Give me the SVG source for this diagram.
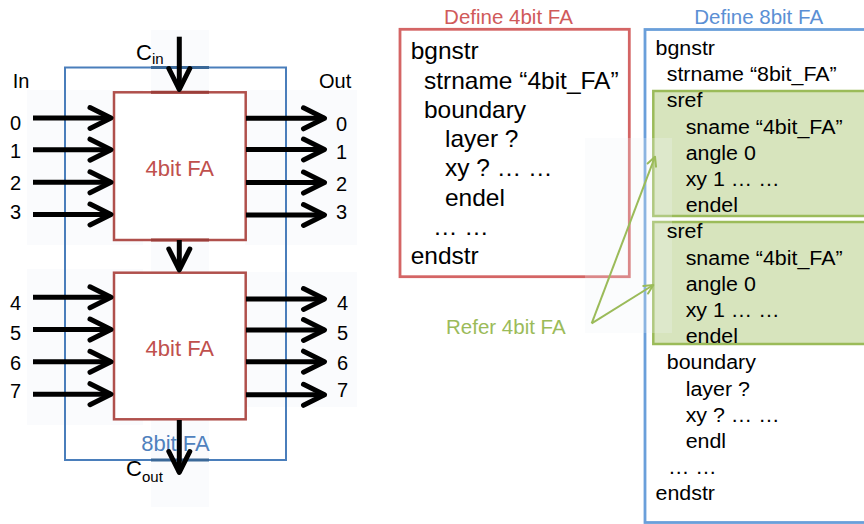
<svg xmlns="http://www.w3.org/2000/svg" width="864" height="524" viewBox="0 0 864 524">
  <defs>
    <style>
      text { font-family: "Liberation Sans", Arial, Helvetica, sans-serif; }
      .lbl { font-size: 20px; fill: #000; }
      .sub { font-size: 15px; fill: #000; }
      .fa4 { font-size: 22px; fill: #c0504d; }
      .fa8 { font-size: 22px; fill: #4f81bd; }
      .code4 { font-size: 23px; fill: #000; }
      .code8 { font-size: 20px; fill: #000; }
      .ttl4 { font-size: 20.5px; fill: #d05a5a; text-anchor: middle; }
      .ttl8 { font-size: 20.5px; fill: #5b8fd4; text-anchor: middle; }
      .refer { font-size: 20.5px; fill: #9bbb59; }
      .wire { stroke: #000; stroke-width: 5; fill: none; marker-end: url(#chev); }
      .patch { fill: #fafbfd; }
      .unit { fill: #fff; stroke: #b0504c; stroke-width: 2.5; }
      .glink { stroke: #9bbb59; stroke-width: 2; fill: none; marker-end: url(#gtip); }
      .sref { fill: #d7e4bd; stroke: #9bbb59; stroke-width: 2.5; }
    </style>
    <!-- thick open chevron for the signal arrows -->
    <marker id="chev" markerUnits="userSpaceOnUse" viewBox="-26 -14 30 28" refX="0" refY="0" markerWidth="30" markerHeight="28" orient="auto" overflow="visible">
      <path d="M-21,-10.5 L0,0 L-21,10.5" fill="none" stroke="#000" stroke-width="5" stroke-linecap="round" stroke-linejoin="round"/>
    </marker>
    <!-- thin open tip for the green reference links -->
    <marker id="gtip" markerUnits="userSpaceOnUse" viewBox="-12 -8 14 16" refX="0" refY="0" markerWidth="14" markerHeight="16" orient="auto" overflow="visible">
      <path d="M-9,-4.5 L0,0 L-9,4.5" fill="none" stroke="#9bbb59" stroke-width="2" stroke-linecap="round" stroke-linejoin="round"/>
    </marker>
  </defs>

  <rect x="0" y="0" width="864" height="524" fill="#fff"/>

  <!-- faint backdrops behind the arrow groups -->
  <g id="backdrops">
    <rect class="patch" x="27" y="90" width="116" height="155"/>
    <rect class="patch" x="27" y="269" width="116" height="156"/>
    <rect class="patch" x="245" y="90" width="112" height="155"/>
    <rect class="patch" x="245" y="272" width="112" height="135"/>
    <rect class="patch" x="151" y="30" width="58" height="92"/>
    <rect class="patch" x="151" y="236" width="58" height="40"/>
    <rect class="patch" x="151" y="416" width="58" height="91"/>
  </g>

  <!-- 8bit FA enclosure -->
  <g id="fa8-outline">
    <rect x="65" y="67.5" width="221" height="392.5" fill="none" stroke="#4a7ebb" stroke-width="2"/>
    <line x1="151" y1="67.5" x2="209" y2="67.5" stroke="#3a6898" stroke-width="3"/>
    <line x1="151" y1="460" x2="209" y2="460" stroke="#3a6898" stroke-width="3"/>
    <text class="fa8" x="175.5" y="450.7" text-anchor="middle">8bit FA</text>
  </g>

  <!-- upper 4bit FA -->
  <g id="fa4-upper">
    <rect class="unit" x="114" y="92.3" width="131.7" height="147.7"/>
    <line x1="151" y1="92.3" x2="209" y2="92.3" stroke="#9c3e3a" stroke-width="3"/>
    <line x1="151" y1="240" x2="209" y2="240" stroke="#9c3e3a" stroke-width="3"/>
    <text class="fa4" x="179.8" y="175.7" text-anchor="middle">4bit FA</text>
  </g>

  <!-- lower 4bit FA -->
  <g id="fa4-lower">
    <rect class="unit" x="114" y="272.7" width="131.7" height="146.6"/>
    <text class="fa4" x="179.8" y="356" text-anchor="middle">4bit FA</text>
  </g>

  <!-- port labels -->
  <g id="ports">
    <text class="lbl" x="12.7" y="87.7">In</text>
    <text class="lbl" x="319" y="88.3">Out</text>
    <text class="lbl" x="10" y="130">0</text>
    <text class="lbl" x="10" y="158.3">1</text>
    <text class="lbl" x="10" y="190">2</text>
    <text class="lbl" x="10" y="219.3">3</text>
    <text class="lbl" x="10" y="310">4</text>
    <text class="lbl" x="10" y="340">5</text>
    <text class="lbl" x="10" y="370">6</text>
    <text class="lbl" x="10" y="397.5">7</text>
    <text class="lbl" x="336" y="130.5">0</text>
    <text class="lbl" x="336" y="159.3">1</text>
    <text class="lbl" x="336" y="190.7">2</text>
    <text class="lbl" x="336" y="219">3</text>
    <text class="lbl" x="337" y="310">4</text>
    <text class="lbl" x="337" y="340">5</text>
    <text class="lbl" x="337" y="370">6</text>
    <text class="lbl" x="337" y="396.7">7</text>
    <text x="136" y="60" font-size="22">C</text>
    <text class="sub" x="152" y="64.3">in</text>
    <text x="126" y="476" font-size="22">C</text>
    <text class="sub" x="142" y="481.7">out</text>
  </g>

  <!-- signal arrows -->
  <g id="signals">
    <line class="wire" x1="33" y1="118" x2="111" y2="118"/>
    <line class="wire" x1="33" y1="149.7" x2="111" y2="149.7"/>
    <line class="wire" x1="33" y1="182.3" x2="111" y2="182.3"/>
    <line class="wire" x1="33" y1="214.5" x2="111" y2="214.5"/>
    <line class="wire" x1="33" y1="297.3" x2="111" y2="297.3"/>
    <line class="wire" x1="33" y1="329.6" x2="111" y2="329.6"/>
    <line class="wire" x1="33" y1="361.8" x2="111" y2="361.8"/>
    <line class="wire" x1="33" y1="394.2" x2="111" y2="394.2"/>
    <line class="wire" x1="246" y1="118.3" x2="324.5" y2="118.3"/>
    <line class="wire" x1="246" y1="149.5" x2="324.5" y2="149.5"/>
    <line class="wire" x1="246" y1="182.6" x2="324.5" y2="182.6"/>
    <line class="wire" x1="246" y1="215" x2="324.5" y2="215"/>
    <line class="wire" x1="246" y1="299" x2="324.5" y2="299"/>
    <line class="wire" x1="246" y1="330" x2="324.5" y2="330"/>
    <line class="wire" x1="246" y1="361.7" x2="324.5" y2="361.7"/>
    <line class="wire" x1="246" y1="394.8" x2="324.5" y2="394.8"/>
    <line class="wire" x1="179.3" y1="36.7" x2="179.3" y2="89.5"/>
    <line class="wire" x1="179.3" y1="240" x2="179.3" y2="270"/>
    <line class="wire" x1="179.3" y1="420" x2="179.3" y2="472.5"/>
  </g>

  <!-- 4bit_FA structure definition -->
  <g id="def-4bit">
    <text class="ttl4" x="508.5" y="24">Define 4bit FA</text>
    <rect x="400" y="29.3" width="229.3" height="247.4" fill="none" stroke="#d46565" stroke-width="2.8"/>
    <g class="code4" transform="matrix(1.065 0 0 1 -26.7 0)">
      <text x="410.7" y="59.3">bgnstr</text>
      <text x="423.2" y="88.6">strname “4bit_FA”</text>
      <text x="423.2" y="117.9">boundary</text>
      <text x="442.9" y="147.2">layer ?</text>
      <text x="442.9" y="176.5">xy ? … …</text>
      <text x="442.9" y="205.8">endel</text>
      <text x="431.6" y="235.1">… …</text>
      <text x="410.7" y="264.4">endstr</text>
    </g>
  </g>

  <!-- 8bit_FA structure definition -->
  <g id="def-8bit">
    <text class="ttl8" x="758.7" y="24">Define 8bit FA</text>
    <rect x="645" y="29.5" width="240" height="493" fill="none" stroke="#6a9fda" stroke-width="2.8"/>
    <rect class="sref" x="653.3" y="91" width="230" height="125"/>
    <rect class="sref" x="653.3" y="222" width="230" height="122"/>
    <rect x="585" y="138" width="87" height="195" fill="#eef2f8" opacity="0.25"/>
    <g class="code8" transform="matrix(1.07 0 0 1 -45.885 0)">
      <text x="655.5" y="55">bgnstr</text>
      <text x="666" y="81.2">strname “8bit_FA”</text>
      <text x="666" y="107.4">sref</text>
      <text x="683.7" y="133.6">sname “4bit_FA”</text>
      <text x="683.7" y="159.8">angle 0</text>
      <text x="683.7" y="186">xy 1 … …</text>
      <text x="683.7" y="212.2">endel</text>
      <text x="666" y="238.4">sref</text>
      <text x="683.7" y="264.6">sname “4bit_FA”</text>
      <text x="683.7" y="290.8">angle 0</text>
      <text x="683.7" y="317">xy 1 … …</text>
      <text x="683.7" y="343.2">endel</text>
      <text x="666" y="369.4">boundary</text>
      <text x="683.7" y="395.6">layer ?</text>
      <text x="683.7" y="421.8">xy ? … …</text>
      <text x="683.7" y="448">endl</text>
      <text x="667.2" y="474.2">… …</text>
      <text x="655.5" y="500.4">endstr</text>
    </g>
  </g>

  <!-- references from the 8bit structure to the 4bit one -->
  <g id="refer">
    <text class="refer" x="446" y="334">Refer 4bit FA</text>
    <line class="glink" x1="591.7" y1="323.3" x2="655" y2="156.7"/>
    <line class="glink" x1="591.7" y1="323.3" x2="653.3" y2="285"/>
  </g>
</svg>
